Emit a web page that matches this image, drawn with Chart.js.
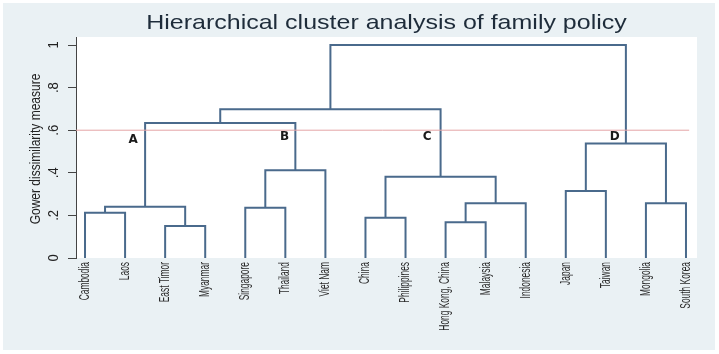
<!DOCTYPE html>
<html><head><meta charset="utf-8">
<script src="https://cdn.jsdelivr.net/npm/chart.js@4/dist/chart.umd.min.js"></script>
<style>html,body{margin:0;padding:0;background:#fff}#wrap{width:719px;height:354px}</style>
</head><body>
<div id="wrap"><canvas id="c" width="719" height="354"></canvas></div>
<script>
// ---- data ----
const leaves = ['Cambodia','Laos','East Timor','Myanmar','Singapore','Thailand','Viet Nam','China','Philippines','Hong Kong, China','Malaysia','Indonesia','Japan','Taiwan','Mongolia','South Korea'];
// merges: node ids 0..15 are leaves, merge k creates node 16+k
const mergeLeft   = [0, 2, 16, 4, 19, 18, 7, 9, 23, 22, 21, 12, 14, 27, 26];
const mergeRight  = [1, 3, 17, 5, 6, 20, 8, 10, 11, 24, 25, 13, 15, 28, 29];
const mergeHeight = [0.213, 0.150, 0.241, 0.236, 0.412, 0.634, 0.189, 0.168, 0.257, 0.382, 0.698, 0.315, 0.257, 0.538, 1.0];
const yTicks = [0, 0.2, 0.4, 0.6, 0.8, 1];
const yTickLabels = ['0', '.2', '.4', '.6', '.8', '1'];
const cutHeight = 0.6;
const clusterNames = ['A', 'B', 'C', 'D'];
const clusterX = [1.2, 4.98, 8.54, 13.22];
const clusterY = [0.554, 0.57, 0.57, 0.57];
const yTitle = 'Gower dissimilarity measure';
const chartTitle = 'Hierarchical cluster analysis of family policy';

// ---- build datasets ----
const nodeX = leaves.map((_, i) => i);
const nodeH = leaves.map(() => 0);
const datasets = [];
datasets.push({
  data: [{x: -0.225, y: cutHeight}, {x: 15.08, y: cutHeight}],
  borderColor: '#e4a4a6', borderWidth: 1, showLine: true, pointRadius: 0
});
mergeLeft.forEach((l, k) => {
  const r = mergeRight[k], h = mergeHeight[k];
  datasets.push({
    data: [{x: nodeX[l], y: nodeH[l]}, {x: nodeX[l], y: h}, {x: nodeX[r], y: h}, {x: nodeX[r], y: nodeH[r]}],
    borderColor: '#4a6a8c', borderWidth: 2, showLine: true, pointRadius: 0, borderJoinStyle: 'miter', borderCapStyle: 'butt'
  });
  nodeX.push((nodeX[l] + nodeX[r]) / 2);
  nodeH.push(h);
});

// rotated text: sx scales along the text, sy across it (screen x)
function rotText(ctx, text, x, y, align, sx, sy) {
  ctx.save();
  ctx.translate(x, y);
  ctx.rotate(-Math.PI / 2);
  ctx.scale(sx, sy);
  ctx.textAlign = align;
  ctx.textBaseline = 'middle';
  ctx.fillText(text, 0, 0);
  ctx.restore();
}

const deco = {
  id: 'deco',
  beforeDraw(chart) {
    const {ctx, chartArea: a} = chart;
    ctx.save();
    ctx.fillStyle = '#ffffff';
    ctx.fillRect(0, 0, chart.width, chart.height);
    ctx.fillStyle = '#eaf1f4';
    ctx.fillRect(3, 3, chart.width - 7, chart.height - 7);
    ctx.fillStyle = '#ffffff';
    ctx.fillRect(a.left, a.top, a.right - a.left, a.bottom - a.top);
    ctx.restore();
  },
  afterDraw(chart) {
    const {ctx, chartArea: a} = chart;
    const ys = chart.scales.y, xs = chart.scales.x;
    ctx.save();
    // title
    ctx.fillStyle = '#1e2c3a';
    ctx.font = '21px "Liberation Sans", Arial, sans-serif';
    ctx.save();
    ctx.translate((a.left + a.right) / 2, 23);
    ctx.scale(1.19, 1);
    ctx.textAlign = 'center';
    ctx.textBaseline = 'middle';
    ctx.fillText(chartTitle, 0, 0);
    ctx.restore();
    // y tick labels
    ctx.fillStyle = '#222';
    ctx.font = '13px "Liberation Sans", Arial, sans-serif';
    yTicks.forEach((v, i) => rotText(ctx, yTickLabels[i], 54, ys.getPixelForValue(v), 'center', 1, 1.19));
    // y title
    ctx.font = '12px "Liberation Sans", Arial, sans-serif';
    rotText(ctx, yTitle, 36, 149, 'center', 1, 1.19);
    // x tick labels
    ctx.font = '14px "Liberation Sans", Arial, sans-serif';
    ctx.fillStyle = '#2a2a2a';
    leaves.forEach((t, i) => rotText(ctx, t, xs.getPixelForValue(i), a.bottom + 4, 'right', 0.6, 1));
    // cluster letters
    ctx.font = 'bold 12px "DejaVu Sans", sans-serif';
    ctx.fillStyle = '#1a1a1a';
    ctx.textAlign = 'center';
    ctx.textBaseline = 'middle';
    clusterNames.forEach((t, i) => {
      ctx.fillText(t, xs.getPixelForValue(clusterX[i]), ys.getPixelForValue(clusterY[i]));
    });
    ctx.restore();
  }
};

new Chart(document.getElementById('c'), {
  type: 'scatter',
  data: {datasets},
  plugins: [deco],
  options: {
    responsive: false, animation: false, devicePixelRatio: 1,
    layout: {padding: {top: 37, left: 0, right: 22, bottom: 0}},
    plugins: {
      legend: {display: false}, tooltip: {enabled: false}, title: {display: false}
    },
    scales: {
      x: {
        type: 'linear', min: -0.225, max: 15.275,
        afterBuildTicks: s => { s.ticks = leaves.map((_, i) => ({value: i})); },
        afterFit: s => { s.height = 96; },
        ticks: {display: false},
        grid: {display: false},
        border: {display: false}
      },
      y: {
        type: 'linear', min: 0, max: 1.0376, position: 'left',
        afterBuildTicks: s => { s.ticks = yTicks.map(v => ({value: v})); },
        afterFit: s => { s.width = 76; },
        ticks: {display: false},
        grid: {drawOnChartArea: false, drawTicks: true, tickLength: 8, color: '#444', lineWidth: 1},
        border: {display: true, color: '#444', width: 1},
        title: {display: false}
      }
    }
  }
});
</script>
</body></html>
